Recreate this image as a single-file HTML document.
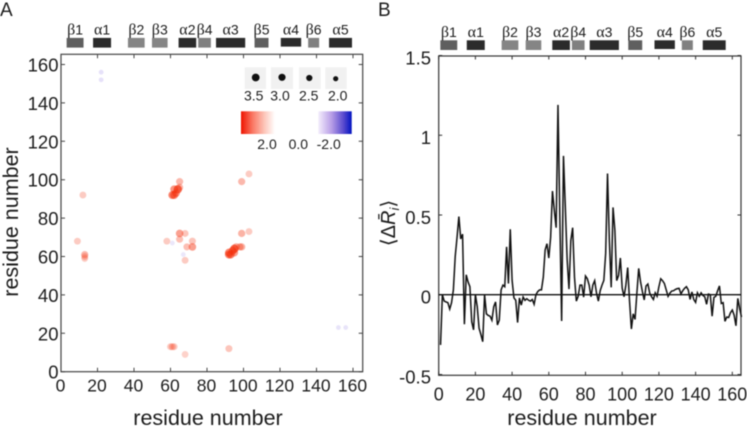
<!DOCTYPE html>
<html>
<head>
<meta charset="utf-8">
<style>
html,body{margin:0;padding:0;background:#fff;width:747px;height:428px;overflow:hidden}
svg{display:block;filter:blur(0.5px)}
text{font-family:"Liberation Sans","DejaVu Sans",sans-serif;fill:#1c1c1c}
.greek{font-family:"Liberation Serif","DejaVu Serif",serif;font-size:16px}
</style>
</head>
<body>
<svg id="fig" xmlns="http://www.w3.org/2000/svg" width="747" height="428" viewBox="0 0 747 428">
  <defs>
    <linearGradient id="redGrad" x1="0" x2="1" y1="0" y2="0">
      <stop offset="0" stop-color="#ee1400"/>
      <stop offset="0.35" stop-color="#fa7a66"/>
      <stop offset="0.7" stop-color="#fdc8bc"/>
      <stop offset="1" stop-color="#ffffff"/>
    </linearGradient>
    <linearGradient id="blueGrad" x1="0" x2="1" y1="0" y2="0">
      <stop offset="0" stop-color="#f4eefc"/>
      <stop offset="0.4" stop-color="#b79de6"/>
      <stop offset="0.75" stop-color="#5a4bcf"/>
      <stop offset="1" stop-color="#0012c0"/>
    </linearGradient>
  </defs>
  <text x="0" y="16" font-size="19">A</text>
  <text x="378" y="16" font-size="19">B</text>
  <g id="structA" transform="translate(-373.7,-2.4)"></g>
  <g id="structB"></g>
  <g id="panelA"></g>
  <g id="panelB"></g>
  <g>
    <rect x="244.7" y="67.3" width="21.3" height="21.7" fill="#f1f1f1"/>
    <rect x="271" y="67.3" width="22" height="21.7" fill="#f1f1f1"/>
    <rect x="299" y="67.3" width="21.7" height="21.7" fill="#f1f1f1"/>
    <rect x="325.3" y="67.3" width="21.4" height="21.7" fill="#f1f1f1"/>
    <circle cx="255.7" cy="77.5" r="3.9" fill="#111"/>
    <circle cx="282" cy="77.3" r="3.6" fill="#111"/>
    <circle cx="309.3" cy="78" r="3.1" fill="#111"/>
    <circle cx="335.7" cy="78.7" r="2.6" fill="#111"/>
    <text x="253.7" y="100.7" font-size="14" text-anchor="middle">3.5</text>
    <text x="280" y="100.7" font-size="14" text-anchor="middle">3.0</text>
    <text x="308.7" y="100.7" font-size="14" text-anchor="middle">2.5</text>
    <text x="337.7" y="100.7" font-size="14" text-anchor="middle">2.0</text>
  </g>
  <g>
    <rect x="241" y="111.3" width="34" height="22.7" fill="url(#redGrad)"/>
    <rect x="318.3" y="111.3" width="33.4" height="22.7" fill="url(#blueGrad)"/>
    <text x="267" y="149" font-size="14" text-anchor="middle">2.0</text>
    <text x="298.3" y="149" font-size="14" text-anchor="middle">0.0</text>
    <text x="328.7" y="149" font-size="14" text-anchor="middle">-2.0</text>
  </g>
  <text x="208" y="425" font-size="21.5" text-anchor="middle">residue number</text>
  <text transform="translate(18,222) rotate(-90)" font-size="21.5" text-anchor="middle">residue number</text>
  <text x="582" y="425" font-size="21.5" text-anchor="middle">residue number</text>
  <text transform="translate(395,223) rotate(-90)" font-size="20" text-anchor="middle">⟨Δ<tspan font-style="italic">R̄</tspan><tspan font-style="italic" font-size="13" dy="4">i</tspan><tspan dy="-4">⟩</tspan></text>
</svg>
<script>
// Secondary structure
var structGreek = ["β","α","β","β","α","β","α","β","α","β","α"];
var structIndex = ["1","1","2","3","2","4","3","5","4","6","5"];
var structStart = [0.9,15.3,34.3,47.4,61.9,72.6,82.3,103.3,117.6,132.5,143.9];
var structEnd = [10.1,25.1,43.4,55.9,71.5,79.5,98.2,110.9,128.7,138.5,156.4];
var structShade = ["#5f5f5f","#2b2b2b","#858585","#858585","#2b2b2b","#808080","#2b2b2b","#5f5f5f","#2b2b2b","#808080","#2b2b2b"];

// Panel A data
var xTicksA = [0,20,40,60,80,100,120,140,160];
var yTicksA = [0,20,40,60,80,100,120,140,160];
var contactI = [22,22,61,67,152,156,12,103,99,65,65,62,64,61,62,63,9,13,13,13,65,68,65,58,72,72,69,68,60,61,62,68,92,92,93,92,95,95,94,96,99,98,99,103];
var contactJ = [156,152,67,61,23,23,92,103,99,99,96,95,95,92,92,93,68,61,59,60,72,72,69,68,68,65,65,58,13,13,13,9,12,62,61,61,62,64,63,65,65,65,72,73];
var contactValue = [-0.3,-0.3,-0.2,-0.2,-0.25,-0.25,0.5,0.5,0.8,0.8,0.8,1.4,2,1.6,1.6,1.4,0.5,0.8,0.5,0.5,1.2,0.6,0.7,0.5,0.6,1.2,0.7,0.5,0.5,0.6,0.5,0.4,0.6,1.6,1.6,1.6,1.2,2,1.6,1.0,0.9,0.9,0.9,0.5];

// Panel B data
var xTicksB = [0,20,40,60,80,100,120,140,160];
var yTicksB = [-0.5,0,0.5,1,1.5];
var yTickLabelsB = ["-0.5","0","0.5","1","1.5"];
var profile = [-0.315,0,-0.04,-0.045,-0.05,-0.09,-0.05,0.03,0.24,0.36,0.49,0.35,0.38,-0.185,0.125,0.08,0.05,-0.17,-0.22,0,-0.075,-0.21,-0.25,-0.295,0,-0.12,-0.13,-0.135,-0.16,-0.075,-0.045,-0.19,-0.16,0.03,0.06,0.05,0.30,0.07,0.41,0.09,-0.02,-0.035,-0.175,-0.02,-0.065,-0.015,-0.035,-0.025,-0.035,-0.04,-0.03,-0.06,0,0.02,0.03,0.03,0.11,0.28,0.32,0.23,0.36,0.65,0.53,0.42,1.19,0.5,-0.165,0.87,0.55,0.22,0.035,0.34,0.42,0.11,-0.04,-0.01,0.06,0.06,-0.015,0.117,0.10,0.06,-0.013,0.06,0.088,0.01,-0.04,0.025,0.06,0.09,0.26,0.76,0.34,0.046,0.547,0.405,0.088,0.12,0.23,0.04,-0.013,0.06,0.17,-0.04,-0.215,-0.12,-0.155,0.01,0.165,0.08,0.02,-0.033,0.055,0.067,0.01,-0.013,-0.03,0.012,-0.01,0.05,0.1,0.088,0.07,0.03,-0.01,0.01,0.023,0.025,0.033,0.038,0.04,0.005,0.025,0.04,0.05,0.03,-0.03,0.017,-0.03,-0.048,0.012,-0.01,0.012,-0.005,-0.013,-0.06,0.004,0,-0.135,-0.017,-0.01,0.025,0.055,-0.055,-0.05,-0.167,-0.14,-0.143,-0.113,-0.096,-0.128,-0.195,-0.023,-0.086,-0.14];

var NS = "http://www.w3.org/2000/svg";
function make(tag, attrs, parent) {
  var el = document.createElementNS(NS, tag);
  for (var k in attrs) el.setAttribute(k, attrs[k]);
  parent.appendChild(el);
  return el;
}

// Axis functions
function xA(v) { return 61 + v * 1.825; }
function yA(v) { return 371.7 - v * 1.92; }
function xB(v) { return 438.7 + v * 1.835; }
function yB(v) { return 294.7 - v * 159.5; }

// Secondary structure strips
function drawStruct(group) {
  for (var i = 0; i < structGreek.length; i++) {
    var short = structGreek[i] === "α" && structIndex[i] === "4";
    var r = make("rect", {x: xB(structStart[i]), y: 40.3, width: xB(structEnd[i]) - xB(structStart[i]), height: short ? 8.7 : 9.7, fill: structShade[i]}, group);
    
    
    var t = make("text", {x: (xB(structStart[i]) + xB(structEnd[i])) / 2, y: 37, "font-size": 14, "text-anchor": "middle"}, group);
    
    
    var g = make("tspan", {"class": "greek"}, t);
    g.textContent = structGreek[i];
    var n = make("tspan", {}, t);
    n.textContent = structIndex[i];
  }
}
drawStruct(document.getElementById("structA"));
drawStruct(document.getElementById("structB"));

// Panel A
var pA = document.getElementById("panelA");
var frameA = make("rect", {x: 61, y: 54.3, width: 301.7, height: 317.4, fill: "none", stroke: "#444", "stroke-width": 1.2}, pA);



xTicksA.forEach(function (v) {
  var px = xA(v);
  var t1 = make("path", {d: "M" + px + " 371.7v-4M" + px + " 54.3v4", stroke: "#444", "stroke-width": 1, fill: "none"}, pA);
  
  
  var l = make("text", {x: px - 0.5, y: 391.7, "font-size": 17.5, "text-anchor": "middle"}, pA);
  
  
  l.textContent = v;
});
yTicksA.forEach(function (v) {
  var py = yA(v);
  var t1 = make("path", {d: "M61 " + py + "h4M362.7 " + py + "h-4", stroke: "#444", "stroke-width": 1, fill: "none"}, pA);
  
  
  var l = make("text", {x: 58.5, y: py + 7, "font-size": 18.5, "text-anchor": "end"}, pA);
  
  
  l.textContent = v;
});

contactI.forEach(function (res, i) {
  var val = contactValue[i];
  var neg = val < 0;
  var strength = Math.abs(val) / 2;
  var radius = neg ? 2.4 : 3.2 + 1.0 * strength;
  var c = make("circle", {
    cx: xA(res), cy: yA(contactJ[i]), r: radius,
    fill: neg ? "#9a88e6" : "#f4300c",
    "fill-opacity": neg ? strength + 0.1 : 0.1 + 0.6 * strength
  }, pA);
  
  
});

// Panel B
var pB = document.getElementById("panelB");
var frameB = make("rect", {x: 438.7, y: 56, width: 302.3, height: 319.3, fill: "none", stroke: "#333", "stroke-width": 1.2}, pB);



xTicksB.forEach(function (v) {
  var px = xB(v);
  var t1 = make("path", {d: "M" + px + " 375.3v-3.5M" + px + " 56v3.5", stroke: "#333", "stroke-width": 1, fill: "none"}, pB);
  
  
  var l = make("text", {x: px, y: 400.7, "font-size": 18, "text-anchor": "middle"}, pB);
  
  
  l.textContent = v;
});
yTicksB.forEach(function (v, i) {
  var py = yB(v);
  var t1 = make("path", {d: "M438.7 " + py + "h3.5M741 " + py + "h-3.5", stroke: "#333", "stroke-width": 1, fill: "none"}, pB);
  
  
  var l = make("text", {x: 431, y: py + 9, "font-size": 18.5, "text-anchor": "end"}, pB);
  
  
  l.textContent = yTickLabelsB[i];
});

var zero = make("line", {x1: xB(0), x2: 741, y1: yB(0), y2: yB(0), stroke: "#111", "stroke-width": 1.4}, pB);



var pts = profile.map(function (v, i) { return xB(i + 1).toFixed(2) + "," + yB(v).toFixed(2); }).join(" ");
var line = make("polyline", {points: pts, fill: "none", stroke: "#111", "stroke-width": 1.5, "stroke-linejoin": "miter"}, pB);


</script>
</body>
</html>
